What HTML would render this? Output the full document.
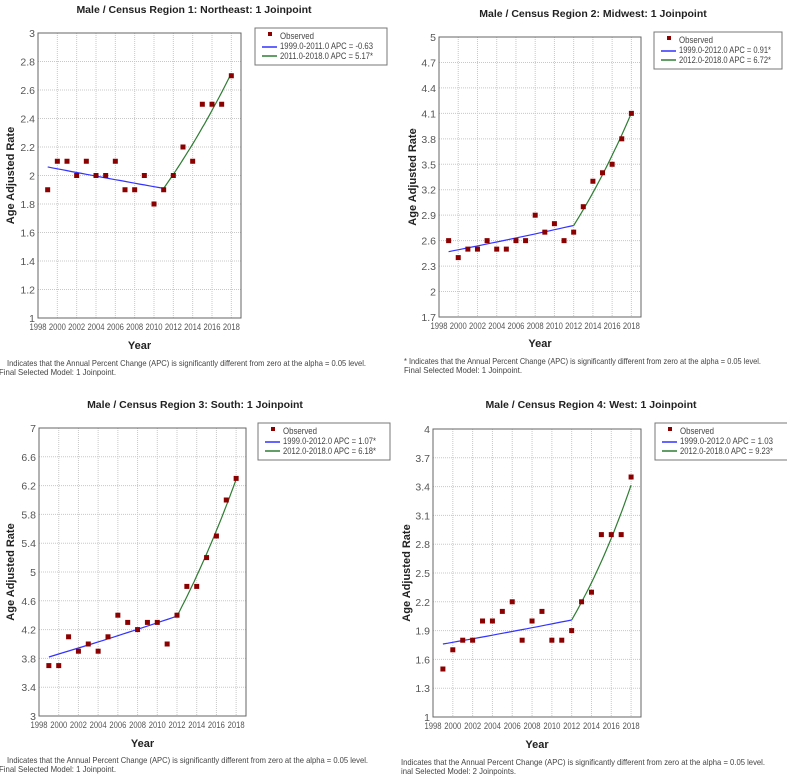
<!DOCTYPE html>
<html><head><meta charset="utf-8">
<style>
html,body{margin:0;padding:0;background:#fff;width:787px;height:776px;overflow:hidden}
svg{display:block;font-family:"Liberation Sans",sans-serif}
</style></head>
<body>
<svg id="root" width="787" height="776" viewBox="0 0 787 776"></svg>
<script>
const years=[1999,2000,2001,2002,2003,2004,2005,2006,2007,2008,2009,2010,2011,2012,2013,2014,2015,2016,2017,2018];
const xTicks=[1998,2000,2002,2004,2006,2008,2010,2012,2014,2016,2018];
const obsNE=[1.9,2.1,2.1,2.0,2.1,2.0,2.0,2.1,1.9,1.9,2.0,1.8,1.9,2.0,2.2,2.1,2.5,2.5,2.5,2.7];
const obsMW=[2.6,2.4,2.5,2.5,2.6,2.5,2.5,2.6,2.6,2.9,2.7,2.8,2.6,2.7,3.0,3.3,3.4,3.5,3.8,4.1];
const obsS=[3.7,3.7,4.1,3.9,4.0,3.9,4.1,4.4,4.3,4.2,4.3,4.3,4.0,4.4,4.8,4.8,5.2,5.5,6.0,6.3];
const obsW=[1.5,1.7,1.8,1.8,2.0,2.0,2.1,2.2,1.8,2.0,2.1,1.8,1.8,1.9,2.2,2.3,2.9,2.9,2.9,3.5];
const yTicksNE=[1,1.2,1.4,1.6,1.8,2,2.2,2.4,2.6,2.8,3];
const yTicksMW=[1.7,2,2.3,2.6,2.9,3.2,3.5,3.8,4.1,4.4,4.7,5];
const yTicksS=[3,3.4,3.8,4.2,4.6,5,5.4,5.8,6.2,6.6,7];
const yTicksW=[1,1.3,1.6,1.9,2.2,2.5,2.8,3.1,3.4,3.7,4];
// fit: [startYear, joinYear, endYear, startValue, apc1, apc2]
const fitNE=[1999,2011,2018,2.06,-0.63,5.17];
const fitMW=[1999,2012,2018,2.47,0.91,6.72];
const fitS=[1999,2012,2018,3.82,1.07,6.18];
const fitW=[1999,2012,2018,1.76,1.03,9.23];

const NS="http://www.w3.org/2000/svg";
const root=document.getElementById('root');
function el(tag,attrs,parent,text){const e=document.createElementNS(NS,tag);for(const k in attrs)e.setAttribute(k,attrs[k]);if(text!==undefined)e.textContent=text;(parent||root).appendChild(e);return e;}

function panel(p){
  const g=el('g',{},root);
  
  
  const X=v=>p.x0+(v-1998)/(2019-1998)*(p.x1-p.x0);
  const Y=v=>p.y1-(v-p.ymin)/(p.ymax-p.ymin)*(p.y1-p.y0);
  const t=el('text',{x:p.tx,y:p.ty,'font-size':10.5,'font-weight':'bold','text-anchor':'middle',fill:'#222'},g,p.title);
  
  
  const bg=el('rect',{x:p.x0,y:p.y0,width:p.x1-p.x0,height:p.y1-p.y0,fill:'#fff',stroke:'none'},g);
  
  
  p.yTicks.forEach(v=>{
    const l=el('line',{x1:p.x0,x2:p.x1,y1:Y(v),y2:Y(v),stroke:'#c8c8c8','stroke-dasharray':'1,1','stroke-width':1},g);
    
    
    const tl=el('text',{x:p.x0-3,y:Y(v)+4,'font-size':10.5,'text-anchor':'end',fill:'#555'},g,String(v));
    
    
  });
  xTicks.forEach(v=>{
    const l=el('line',{x1:X(v),x2:X(v),y1:p.y0,y2:p.y1,stroke:'#c8c8c8','stroke-dasharray':'1,1','stroke-width':1},g);
    
    
    const tl=el('text',{x:X(v)-8.5,y:p.y1+12,'font-size':9.5,fill:'#555',textLength:17,lengthAdjust:'spacingAndGlyphs'},g,String(v));
    
    
  });
  const fr=el('rect',{x:p.x0,y:p.y0,width:p.x1-p.x0,height:p.y1-p.y0,fill:'none',stroke:'#666','stroke-width':1},g);
  
  
  const yl=el('text',{x:0,y:0,'font-size':11,'font-weight':'bold','text-anchor':'middle',fill:'#222',transform:`translate(${p.ylx},${(p.y0+p.y1)/2}) rotate(-90)`},g,'Age Adjusted Rate');
  
  
  const xl=el('text',{x:(p.x0+p.x1)/2,y:p.xly,'font-size':11,'font-weight':'bold','text-anchor':'middle',fill:'#222'},g,'Year');
  
  
  const f=p.fit;
  let d1='',d2='';
  for(let yr=f[0];yr<=f[1]+1e-9;yr+=0.5){const v=f[3]*Math.pow(1+f[4]/100,yr-f[0]);d1+=(d1?'L':'M')+X(yr).toFixed(1)+','+Y(v).toFixed(1);}
  const vj=f[3]*Math.pow(1+f[4]/100,f[1]-f[0]);
  for(let yr=f[1];yr<=f[2]+1e-9;yr+=0.25){const v=vj*Math.pow(1+f[5]/100,yr-f[1]);d2+=(d2?'L':'M')+X(yr).toFixed(1)+','+Y(v).toFixed(1);}
  const s1=el('path',{d:d1,fill:'none',stroke:'#3333ff','stroke-width':1.2},g);
  
  
  const s2=el('path',{d:d2,fill:'none',stroke:'#2e7d32','stroke-width':1.2},g);
  
  
  years.forEach((yr,i)=>{
    const m=el('rect',{x:X(yr)-2.5,y:Y(p.obs[i])-2.5,width:5,height:5,fill:'#8b0000'},g);
    
    
  });
  const lg=el('g',{},g);
  
  
  el('rect',{x:p.lx,y:p.ly,width:p.lw,height:37,fill:'#fff',stroke:'#777','stroke-width':1},lg);
  el('rect',{x:p.lx+13,y:p.ly+4,width:4,height:4,fill:'#8b0000'},lg);
  el('text',{x:p.lx+25,y:p.ly+11,'font-size':9.5,fill:'#444',textLength:34,lengthAdjust:'spacingAndGlyphs'},lg,'Observed');
  el('line',{x1:p.lx+7,x2:p.lx+22,y1:p.ly+19,y2:p.ly+19,stroke:'#3333ff','stroke-width':1.5},lg);
  el('text',{x:p.lx+25,y:p.ly+21,'font-size':9.5,fill:'#444',textLength:p.lt,lengthAdjust:'spacingAndGlyphs'},lg,p.leg1);
  el('line',{x1:p.lx+7,x2:p.lx+22,y1:p.ly+28,y2:p.ly+28,stroke:'#2e7d32','stroke-width':1.5},lg);
  el('text',{x:p.lx+25,y:p.ly+31,'font-size':9.5,fill:'#444',textLength:p.lt,lengthAdjust:'spacingAndGlyphs'},lg,p.leg2);
  const n1=el('text',{x:p.nx,y:p.ny,'font-size':8.5,fill:'#444',textLength:p.nw,lengthAdjust:'spacingAndGlyphs'},g,p.note1);
  
  
  const n2=el('text',{x:p.nx2,y:p.ny+9,'font-size':8.5,fill:'#444',textLength:p.nw2,lengthAdjust:'spacingAndGlyphs'},g,p.note2);
  
  
}
const sig='Indicates that the Annual Percent Change (APC) is significantly different from zero at the alpha = 0.05 level.';
panel({id:'northeast',title:'Male / Census Region 1: Northeast: 1 Joinpoint',tx:194,ty:13,x0:38,x1:241,y0:33,y1:318,ymin:1,ymax:3,yTicks:yTicksNE,obs:obsNE,fit:fitNE,ylx:14,xly:349,lx:255,ly:28,lw:132,lt:93,leg1:'1999.0-2011.0 APC  = -0.63',leg2:'2011.0-2018.0 APC  =  5.17*',nx:7,nx2:-1,ny:366,nw:359,nw2:117,note1:sig,note2:'Final Selected Model: 1 Joinpoint.'});
panel({id:'midwest',title:'Male / Census Region 2: Midwest: 1 Joinpoint',tx:593,ty:17,x0:439,x1:641,y0:37,y1:317,ymin:1.7,ymax:5,yTicks:yTicksMW,obs:obsMW,fit:fitMW,ylx:416,xly:347,lx:654,ly:32,lw:128,lt:92,leg1:'1999.0-2012.0 APC  = 0.91*',leg2:'2012.0-2018.0 APC  = 6.72*',nx:404,nx2:404,ny:364,nw:357,nw2:118,note1:'* '+sig,note2:'Final Selected Model: 1 Joinpoint.'});
panel({id:'south',title:'Male / Census Region 3: South: 1 Joinpoint',tx:195,ty:408,x0:39,x1:246,y0:428,y1:716,ymin:3,ymax:7,yTicks:yTicksS,obs:obsS,fit:fitS,ylx:14,xly:747,lx:258,ly:423,lw:132,lt:93,leg1:'1999.0-2012.0 APC  = 1.07*',leg2:'2012.0-2018.0 APC  = 6.18*',nx:7,nx2:-1,ny:763,nw:361,nw2:117,note1:sig,note2:'Final Selected Model: 1 Joinpoint.'});
panel({id:'west',title:'Male / Census Region 4: West: 1 Joinpoint',tx:591,ty:408,x0:433,x1:641,y0:429,y1:717,ymin:1,ymax:4,yTicks:yTicksW,obs:obsW,fit:fitW,ylx:410,xly:748,lx:655,ly:423,lw:134,lt:93,leg1:'1999.0-2012.0 APC  = 1.03',leg2:'2012.0-2018.0 APC  = 9.23*',nx:401,nx2:401,ny:765,nw:364,nw2:115,note1:sig,note2:'inal Selected Model: 2 Joinpoints.'});
</script>
</body></html>
